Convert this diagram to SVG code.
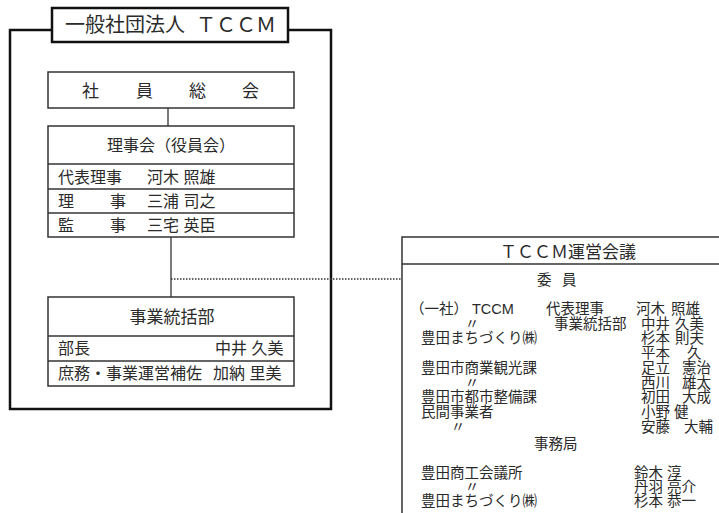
<svg xmlns="http://www.w3.org/2000/svg" width="719" height="513" viewBox="0 0 719 513">
<style>
text{font-family:"Liberation Sans","Noto Sans CJK JP",sans-serif;fill:#2a2a2a}
.box{fill:#fff;stroke:#333;stroke-width:1.5}
.thick{fill:none;stroke:#111;stroke-width:2.5}
.ln{stroke:#333;stroke-width:1.3;fill:none}
.t20{font-size:20px}
.t17{font-size:17px}
.t16{font-size:16px}
.t14{font-size:14.5px}
.mid{text-anchor:middle}
</style>
<g id="outer">
<rect x="10" y="30" width="321" height="379" class="thick"/>
<rect x="52" y="8" width="236" height="34" fill="#fff" stroke="#111" stroke-width="2.5"/>
<text class="t20" y="32"><tspan x="65">一般社団法人</tspan><tspan x="196">ＴＣＣＭ</tspan></text>
</g>
<g id="connectors">
<line x1="168" y1="108" x2="168" y2="126" class="ln"/>
<line x1="171" y1="237" x2="171" y2="297" class="ln"/>
<line x1="171" y1="279" x2="402" y2="279" stroke="#333" stroke-width="1.5" stroke-dasharray="1.5 1.5"/>
</g>
<g id="shain">
<rect x="48" y="72" width="246" height="36" class="box"/>
<text class="t17" y="97"><tspan x="82">社</tspan><tspan x="136">員</tspan><tspan x="189">総</tspan><tspan x="242">会</tspan></text>
</g>
<g id="rijikai">
<rect x="48" y="126" width="246" height="111" class="box"/>
<line x1="48" y1="164" x2="294" y2="164" class="ln"/>
<line x1="48" y1="189" x2="294" y2="189" class="ln"/>
<line x1="48" y1="213" x2="294" y2="213" class="ln"/>
<text class="t16 mid" x="171" y="151">理事会（役員会）</text>
<text class="t16" y="183"><tspan x="58">代表理事</tspan><tspan x="147">河木 照雄</tspan></text>
<text class="t16" y="207"><tspan x="58">理</tspan><tspan x="110">事</tspan><tspan x="147">三浦 司之</tspan></text>
<text class="t16" y="231"><tspan x="58">監</tspan><tspan x="110">事</tspan><tspan x="147">三宅 英臣</tspan></text>
</g>
<g id="jigyo">
<rect x="48" y="297" width="246" height="89" class="box"/>
<line x1="48" y1="336" x2="294" y2="336" class="ln"/>
<line x1="48" y1="361" x2="294" y2="361" class="ln"/>
<text class="t17 mid" x="172" y="323">事業統括部</text>
<text class="t16" y="354"><tspan x="58">部長</tspan><tspan x="215">中井 久美</tspan></text>
<text class="t16" y="379"><tspan x="58">庶務・事業運営補佐</tspan><tspan x="213">加納 里美</tspan></text>
</g>
<g id="unei">
<rect x="402" y="237" width="330" height="290" class="box"/>
<line x1="402" y1="264" x2="719" y2="264" class="ln"/>
<text class="t17 mid" x="568" y="258">ＴＣＣＭ運営会議</text>
<text class="t14" y="285"><tspan x="537">委</tspan><tspan x="562">員</tspan></text>
<g class="t14">
<text y="314"><tspan x="410">（一社）</tspan><tspan x="472">TCCM</tspan><tspan x="546">代表理事</tspan><tspan x="636">河木</tspan><tspan x="671">照雄</tspan></text>
<text y="329"><tspan x="472" class="mid">〃</tspan><tspan x="554">事業統括部</tspan><tspan x="641">中井</tspan><tspan x="675">久美</tspan></text>
<text y="343"><tspan x="421">豊田まちづくり㈱</tspan><tspan x="641">杉本</tspan><tspan x="675">則夫</tspan></text>
<text y="358"><tspan x="641">平本</tspan><tspan x="687">久</tspan></text>
<text y="373"><tspan x="421">豊田市商業観光課</tspan><tspan x="641">足立</tspan><tspan x="682">憲治</tspan></text>
<text y="387.5"><tspan x="472" class="mid">〃</tspan><tspan x="641">西川</tspan><tspan x="682">雄太</tspan></text>
<text y="402"><tspan x="421">豊田市都市整備課</tspan><tspan x="641">初田</tspan><tspan x="682">大成</tspan></text>
<text y="417"><tspan x="421">民間事業者</tspan><tspan x="641">小野</tspan><tspan x="674">健</tspan></text>
<text y="431.5"><tspan x="458" class="mid">〃</tspan><tspan x="641">安藤</tspan><tspan x="684">大輔</tspan></text>
<text y="449" x="534">事務局</text>
<text y="478"><tspan x="421">豊田商工会議所</tspan><tspan x="634">鈴木</tspan><tspan x="667">淳</tspan></text>
<text y="492"><tspan x="472" class="mid">〃</tspan><tspan x="634">丹羽</tspan><tspan x="667">亮介</tspan></text>
<text y="506"><tspan x="421">豊田まちづくり㈱</tspan><tspan x="634">杉本</tspan><tspan x="667">恭一</tspan></text>
</g>
</g>
</svg>
